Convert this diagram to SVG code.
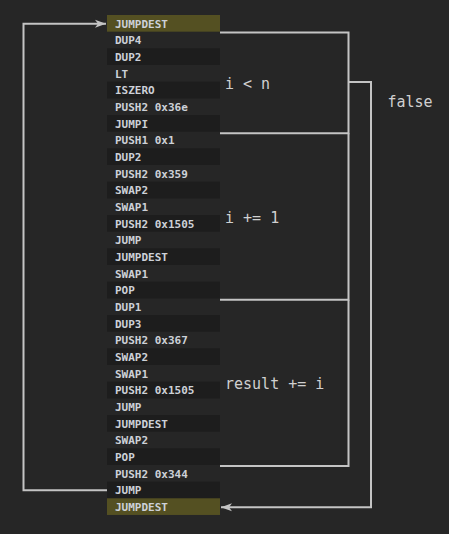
<svg xmlns="http://www.w3.org/2000/svg" width="449" height="534" viewBox="0 0 449 534">
<style>
.op{font-family:"DejaVu Sans Mono","Liberation Mono",monospace;font-size:11px;font-weight:bold;fill:#cdd1d8}
.lbl{font-family:"DejaVu Sans Mono","Liberation Mono",monospace;font-size:15px;fill:#d0d0d0}
.dark{fill:#1d1d1d}
.hl{fill:#545022}
.ln{fill:none;stroke:#c4c4c4;stroke-width:2}
</style>
<defs>
<marker id="ah" markerWidth="12" markerHeight="10" refX="11" refY="5" orient="auto" markerUnits="userSpaceOnUse">
<path d="M0,1 L11,5 L0,9 L3,5 Z" fill="#c4c4c4"/>
</marker>
</defs>
<rect width="449" height="534" fill="#262626"/>
<g id="rows">
<g id="r0"><rect class="hl" x="107" y="15" width="113" height="16.67"/><text class="op" x="115" y="27.5">JUMPDEST</text></g>
<g id="r1"><text class="op" x="115" y="44.2">DUP4</text></g>
<g id="r2"><rect class="dark" x="107" y="48.3" width="113" height="16.67"/><text class="op" x="115" y="60.8">DUP2</text></g>
<g id="r3"><text class="op" x="115" y="77.5">LT</text></g>
<g id="r4"><rect class="dark" x="107" y="81.7" width="113" height="16.67"/><text class="op" x="115" y="94.2">ISZERO</text></g>
<g id="r5"><text class="op" x="115" y="110.8">PUSH2 0x36e</text></g>
<g id="r6"><rect class="dark" x="107" y="115" width="113" height="16.67"/><text class="op" x="115" y="127.5">JUMPI</text></g>
<g id="r7"><text class="op" x="115" y="144.2">PUSH1 0x1</text></g>
<g id="r8"><rect class="dark" x="107" y="148.3" width="113" height="16.67"/><text class="op" x="115" y="160.8">DUP2</text></g>
<g id="r9"><text class="op" x="115" y="177.5">PUSH2 0x359</text></g>
<g id="r10"><rect class="dark" x="107" y="181.7" width="113" height="16.67"/><text class="op" x="115" y="194.2">SWAP2</text></g>
<g id="r11"><text class="op" x="115" y="210.8">SWAP1</text></g>
<g id="r12"><rect class="dark" x="107" y="215" width="113" height="16.67"/><text class="op" x="115" y="227.5">PUSH2 0x1505</text></g>
<g id="r13"><text class="op" x="115" y="244.2">JUMP</text></g>
<g id="r14"><rect class="dark" x="107" y="248.3" width="113" height="16.67"/><text class="op" x="115" y="260.8">JUMPDEST</text></g>
<g id="r15"><text class="op" x="115" y="277.5">SWAP1</text></g>
<g id="r16"><rect class="dark" x="107" y="281.7" width="113" height="16.67"/><text class="op" x="115" y="294.2">POP</text></g>
<g id="r17"><text class="op" x="115" y="310.8">DUP1</text></g>
<g id="r18"><rect class="dark" x="107" y="315" width="113" height="16.67"/><text class="op" x="115" y="327.5">DUP3</text></g>
<g id="r19"><text class="op" x="115" y="344.2">PUSH2 0x367</text></g>
<g id="r20"><rect class="dark" x="107" y="348.3" width="113" height="16.67"/><text class="op" x="115" y="360.8">SWAP2</text></g>
<g id="r21"><text class="op" x="115" y="377.5">SWAP1</text></g>
<g id="r22"><rect class="dark" x="107" y="381.7" width="113" height="16.67"/><text class="op" x="115" y="394.2">PUSH2 0x1505</text></g>
<g id="r23"><text class="op" x="115" y="410.8">JUMP</text></g>
<g id="r24"><rect class="dark" x="107" y="415" width="113" height="16.67"/><text class="op" x="115" y="427.5">JUMPDEST</text></g>
<g id="r25"><text class="op" x="115" y="444.2">SWAP2</text></g>
<g id="r26"><rect class="dark" x="107" y="448.3" width="113" height="16.67"/><text class="op" x="115" y="460.8">POP</text></g>
<g id="r27"><text class="op" x="115" y="477.5">PUSH2 0x344</text></g>
<g id="r28"><rect class="dark" x="107" y="481.7" width="113" height="16.67"/><text class="op" x="115" y="494.2">JUMP</text></g>
<g id="r29"><rect class="hl" x="107" y="498.3" width="113" height="16.67"/><text class="op" x="115" y="510.8">JUMPDEST</text></g>
</g>
<g id="connectors">
<polyline class="ln" points="220,32.5 348.5,32.5 348.5,133.3 220,133.3"/>
<polyline class="ln" points="348.5,133.3 348.5,299.8 220,299.8"/>
<polyline class="ln" points="348.5,299.8 348.5,466 220,466"/>
<polyline class="ln" points="348.5,82 371,82 371,507.3 221,507.3" marker-end="url(#ah)"/>
<polyline class="ln" points="107,490.3 23.5,490.3 23.5,23.7 106,23.7" marker-end="url(#ah)"/>
</g>
<g id="labels">
<text class="lbl" x="225" y="89">i &lt; n</text>
<text class="lbl" x="387.5" y="106.5">false</text>
<text class="lbl" x="225" y="223">i += 1</text>
<text class="lbl" x="225" y="389.3">result += i</text>
</g>
</svg>
